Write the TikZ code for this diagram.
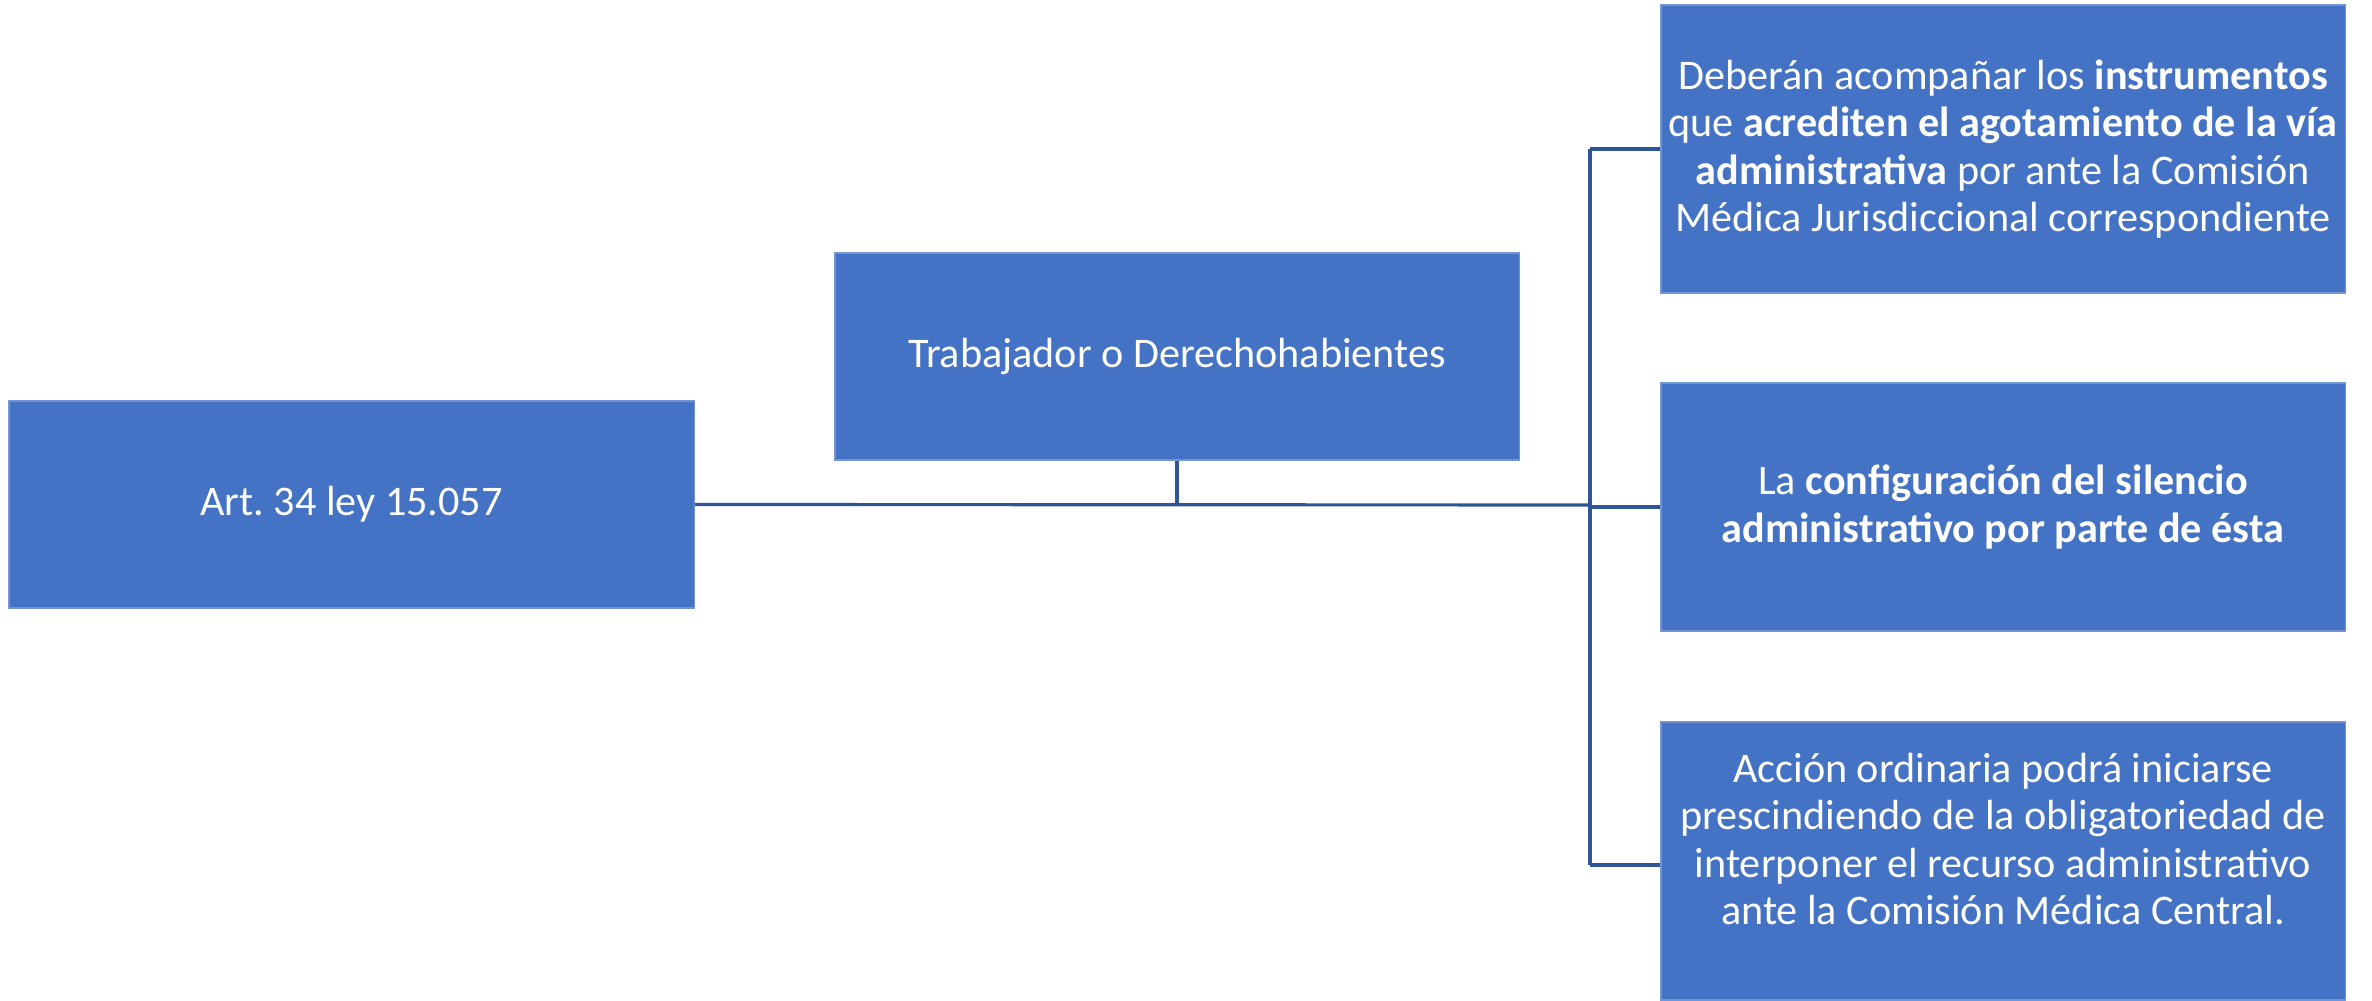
\documentclass[tikz,border=0pt]{standalone}
\usepackage{fontspec}
\setmainfont{Carlito}
\frenchspacing
\definecolor{boxblue}{HTML}{4472C4}
\definecolor{lineblue}{HTML}{2F5597}

\begin{document}
\begin{tikzpicture}[x=0.01cm,y=-0.01cm,
    blockbox/.style={fill=boxblue,draw=boxblue!75!white,line width=0.4pt,text=white,
        minimum width=6.84cm,inner sep=0pt,align=center,font=\fontsize{12}{13.5}\selectfont},
    blocktext/.style={text=white,inner sep=0pt,align=center,font=\fontsize{12}{13.5}\selectfont},
    link/.style={draw=lineblue,line width=0.9pt}]
{
    \useasboundingbox (0,0) rectangle (2372,1001);
    \node[blockbox,minimum width=6.85cm,minimum height=2.07cm] (art) at (351.5,504.5) {Art. 34 ley 15.057};
    \node[blockbox,minimum height=2.07cm] (trab) at (1177,356.5) {Trabajador o Derechohabientes};
    \node[blockbox,minimum height=2.88cm] (r1) at (2003,149) {Deberán acompañar los \textbf{instrumentos}\\
        que \textbf{acrediten el agotamiento de la vía}\\
        \textbf{administrativa} por ante la Comisión\\
        Médica Jurisdiccional correspondiente};
    \node[blockbox,minimum height=2.48cm] (r2) at (2003,507) {La \textbf{configuración del silencio}\\
        \textbf{administrativo por parte de ésta}};
    \node[blockbox,minimum height=2.78cm] (r3) at (2003,861) {};
    \node[blocktext] (r3text) at ([yshift=0.22cm]r3.center) {Acción ordinaria podrá iniciarse\\
        prescindiendo de la obligatoriedad de\\
        interponer el recurso administrativo\\
        ante la Comisión Médica Central.};
    \coordinate (jn) at (1590,505);
    \draw[link] (art.east) -- (jn);
    \draw[link] (trab.south) -- (trab.south |- jn);
    \draw[link] (jn |- r1.west) -- ([yshift=-0.04cm]jn |- r3.west);
    \draw[link] (jn |- r1.west) -- (r1.west);
    \draw[link] (jn |- r2.west) -- (r2.west);
    \draw[link] ([yshift=-0.04cm]jn |- r3.west) -- ([yshift=-0.04cm]r3.west);
}
\end{tikzpicture}
\end{document}
